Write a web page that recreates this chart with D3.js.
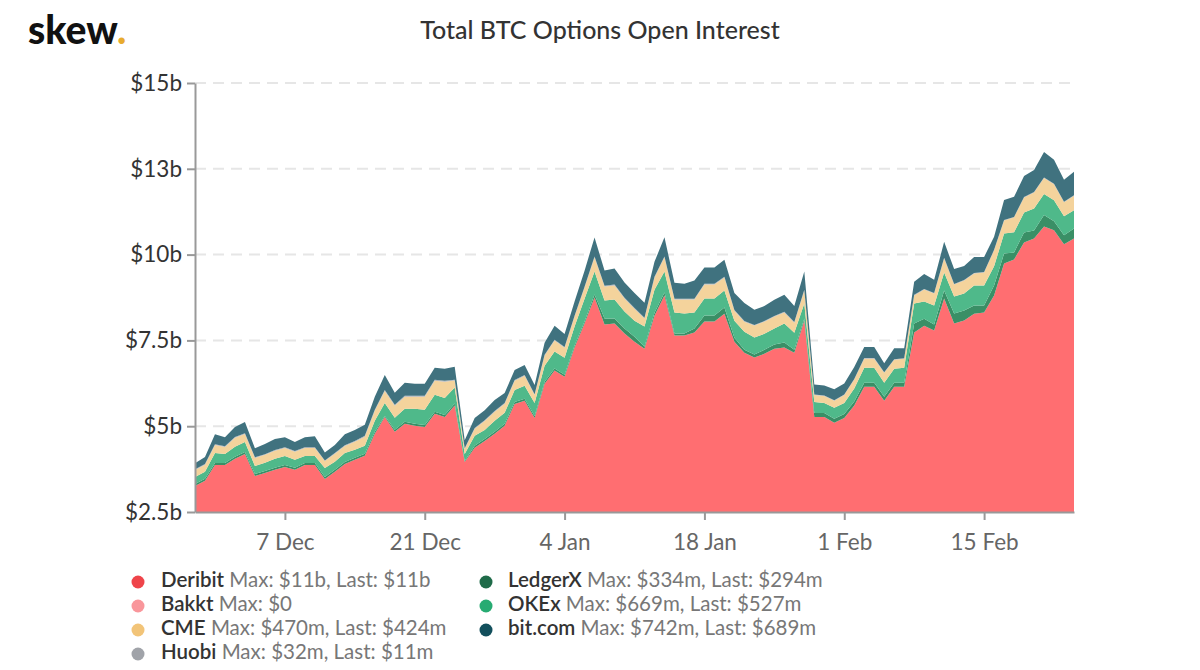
<!DOCTYPE html>
<html>
<head>
<meta charset="utf-8">
<script src="https://cdn.jsdelivr.net/npm/d3@7"></script>
<style>
body { margin: 0; background: #fff; }
svg { display: block; font-family: Lato, sans-serif; }
.domain { stroke: #999; stroke-width: 2; }
.tick line { stroke: #999; stroke-width: 2; }
</style>
</head>
<body>
<svg width="1200" height="670"></svg>
<script>
var width = 1200;
var height = 670;
var left = 195, right = 1074, top_ = 83, bottom = 512;

// all values in $b for deribit, $m for the rest, one per day from 28 Nov
var deribit = [3.26,3.41,3.87,3.87,4.05,4.19,3.55,3.64,3.73,3.81,
  3.73,3.87,3.87,3.46,3.67,3.90,4.02,4.14,4.78,5.27,
  4.84,5.07,5.01,4.98,5.36,5.27,5.60,3.96,4.37,4.57,
  4.78,5.01,5.65,5.74,5.24,6.24,6.62,6.44,7.29,7.99,
  8.75,7.96,7.99,7.70,7.46,7.26,8.22,8.81,7.64,7.64,
  7.73,8.05,8.05,8.28,7.46,7.14,7.00,7.11,7.26,7.29,
  7.14,8.08,5.27,5.27,5.10,5.24,5.60,6.15,6.15,5.74,
  6.15,6.15,7.73,7.93,7.79,8.72,7.99,8.08,8.28,8.31,
  8.81,9.74,9.86,10.35,10.47,10.82,10.71,10.30,10.47];
var bakkt = [0,0,0,0,0,0,0,0,0,0,0,0,0,0,0,0,0,0,0,0,0,0,0,0,0,0,0,0,0,0,
  0,0,0,0,0,0,0,0,0,0,0,0,0,0,0,0,0,0,0,0,0,0,0,0,0,0,0,0,0,0,
  0,0,0,0,0,0,0,0,0,0,0,0,0,0,0,0,0,0,0,0,0,0,0,0,0,0,0,0,0];
var ledgerx = [58,58,58,58,58,58,58,58,58,58,
  58,58,58,58,58,58,58,58,58,29,
  58,58,58,58,58,58,58,29,58,58,
  58,58,58,58,58,58,58,58,58,58,
  88,175,146,146,146,58,88,88,58,58,
  117,175,175,175,117,88,88,117,117,146,
  88,58,117,117,117,117,117,117,117,117,
  117,117,263,204,175,234,292,292,234,204,
  292,292,204,292,234,334,263,263,294];
var okex = [204,204,292,263,292,292,234,234,263,263,
  234,204,204,263,234,263,234,234,321,380,
  350,380,438,438,496,496,467,204,292,263,
  321,321,350,380,380,467,496,496,555,669,
  669,526,555,496,467,584,669,613,613,584,
  467,496,496,496,496,526,496,467,467,555,
  496,438,321,292,321,321,380,438,438,409,
  409,438,584,496,555,526,496,496,584,584,
  555,584,584,584,642,613,613,555,527];
var cme = [204,204,234,204,263,234,234,234,234,234,
  234,234,234,204,234,204,234,263,292,350,
  350,350,350,380,409,470,204,146,204,263,
  263,263,263,292,234,292,321,292,292,321,
  409,409,409,380,350,234,350,409,380,409,
  380,409,409,380,292,292,350,350,350,321,
  292,380,204,204,204,234,263,263,263,292,
  263,263,234,350,350,409,350,380,350,380,
  467,380,438,438,467,467,467,409,424];
var huobi = [20,20,22,22,24,24,20,20,22,22,
  20,20,22,18,20,22,22,24,26,28,
  26,26,28,28,30,32,24,16,20,20,
  22,22,24,24,22,24,26,24,26,28,
  30,26,26,24,22,22,26,28,24,22,
  22,24,24,24,20,20,18,18,20,20,
  20,22,14,14,14,14,16,16,16,14,
  14,14,16,16,14,16,14,14,14,14,
  14,14,12,12,12,12,12,11,11];
var bitcom = [175,204,292,263,292,321,263,292,321,292,
  263,292,321,234,234,321,321,321,380,438,
  350,380,350,350,350,350,380,234,292,292,
  321,292,292,292,263,350,409,380,409,467,
  555,438,467,438,438,438,438,555,467,438,
  526,467,467,496,496,526,438,438,467,496,
  467,526,292,292,321,321,350,321,321,263,
  321,292,380,438,380,467,438,409,467,438,
  380,584,584,613,642,742,701,642,689];

var yTicks = [2.5, 5, 7.5, 10, 12.5, 15];
var yLabels = ['$2.5b', '$5b', '$7.5b', '$10b', '$13b', '$15b'];
var xTicks = ['2020-12-07', '2020-12-21', '2021-01-04', '2021-01-18', '2021-02-01', '2021-02-15'];
var xLabels = ['7 Dec', '21 Dec', '4 Jan', '18 Jan', '1 Feb', '15 Feb'];

var stackKeys = ['deribit', 'bakkt', 'ledgerx', 'okex', 'cme', 'huobi', 'bitcom'];
var areaColors = {
  deribit: '#ff6e71', bakkt: '#fba3a6', ledgerx: '#3a8f66', okex: '#4fb98a',
  cme: '#f4d39c', huobi: '#b0b3b8', bitcom: '#40727f'
};
var legendNames = [
  ['Deribit', 'Max: $11b, Last: $11b', '#ef444a'],
  ['Bakkt', 'Max: $0', '#f9969b'],
  ['CME', 'Max: $470m, Last: $424m', '#f2c478'],
  ['Huobi', 'Max: $32m, Last: $11m', '#a0a3a9'],
  ['LedgerX', 'Max: $334m, Last: $294m', '#1f6b49'],
  ['OKEx', 'Max: $669m, Last: $527m', '#27ab72'],
  ['bit.com', 'Max: $742m, Last: $689m', '#124f5c']
];

var parseDay = d3.utcParse('%Y-%m-%d');
var days = d3.utcDay.range(parseDay('2020-11-28'), parseDay('2021-02-25'));

var rows = days.map((d, i) => ({
  date: d,
  deribit: deribit[i],
  bakkt: bakkt[i] / 1000,
  ledgerx: ledgerx[i] / 1000,
  okex: okex[i] / 1000,
  cme: cme[i] / 1000,
  huobi: huobi[i] / 1000,
  bitcom: bitcom[i] / 1000
}));

var xScale = d3.scaleUtc()
  .domain([days[0], days[days.length - 1]])
  .range([left, right]);

var yScale = d3.scaleLinear()
  .domain([2.5, 15])
  .range([bottom, top_]);

var svg = d3.select('svg');

// grid first, the areas sit on top of it
svg.append('g')
  .selectAll('line')
  .data(yTicks.slice(1))
  .enter()
  .append('line')
  .attr('x1', left)
  .attr('x2', right)
  .attr('y1', d => yScale(d))
  .attr('y2', d => yScale(d))
  .attr('stroke', '#e6e6e6')
  .attr('stroke-width', 2)
  .attr('stroke-dasharray', '11 7');

var series = d3.stack().keys(stackKeys)(rows);

// the y axis starts at 2.5b, so the bottom layer stops there
var area = d3.area()
  .x(d => xScale(d.data.date))
  .y0(d => yScale(Math.max(d[0], 2.5)))
  .y1(d => yScale(d[1]));

svg.append('g')
  .selectAll('path')
  .data(series)
  .enter()
  .append('path')
  .attr('fill', d => areaColors[d.key])
  .attr('d', area);

var xAxis = d3.axisBottom(xScale)
  .tickValues(xTicks.map(parseDay))
  .tickFormat((d, i) => xLabels[i])
  .tickSize(8)
  .tickSizeOuter(0);

var yAxis = d3.axisLeft(yScale)
  .tickValues(yTicks)
  .tickFormat((d, i) => yLabels[i])
  .tickSize(8)
  .tickSizeOuter(0);

var gx = svg.append('g')
  .attr('transform', 'translate(0,' + bottom + ')')
  .call(xAxis);
gx.selectAll('text')
  .attr('y', 22)
  .attr('dy', '0.71em')
  .attr('fill', '#666')
  .style('font-size', '22.5px')
  .style('font-family', 'Lato, sans-serif');

var gy = svg.append('g')
  .attr('transform', 'translate(' + left + ',0)')
  .call(yAxis);
gy.selectAll('text')
  .attr('x', -13)
  .attr('fill', '#333')
  .style('font-size', '22.5px')
  .style('font-family', 'Lato, sans-serif');

svg.append('text')
  .attr('x', 600)
  .attr('y', 39)
  .attr('text-anchor', 'middle')
  .attr('fill', '#333')
  .style('font-size', '25px')
  .style('font-weight', 500)
  .text('Total BTC Options Open Interest');

var logo = svg.append('text')
  .attr('x', 28)
  .attr('y', 44)
  .attr('fill', '#111')
  .style('font-family', 'Lato, sans-serif')
  .style('font-size', '39px')
  .style('font-weight', 900)
  .text('skew');
logo.append('tspan')
  .attr('fill', '#e8ab2e')
  .text('.');

var legend = svg.append('g')
  .selectAll('g')
  .data(legendNames)
  .enter()
  .append('g')
  .attr('transform', (d, i) => 'translate(' + (i < 4 ? 138 : 486) + ',' + (582 + 24 * (i < 4 ? i : i - 4)) + ')');

legend.append('circle')
  .attr('r', 6.5)
  .attr('fill', d => d[2]);

var label = legend.append('text')
  .attr('x', (d, i) => i < 4 ? 23 : 22)
  .attr('y', 5)
  .style('font-size', '20.5px');
label.append('tspan')
  .attr('fill', '#333')
  .style('font-weight', 600)
  .text(d => d[0]);
label.append('tspan')
  .attr('fill', '#777')
  .text(d => ' ' + d[1]);
</script>
</body>
</html>
